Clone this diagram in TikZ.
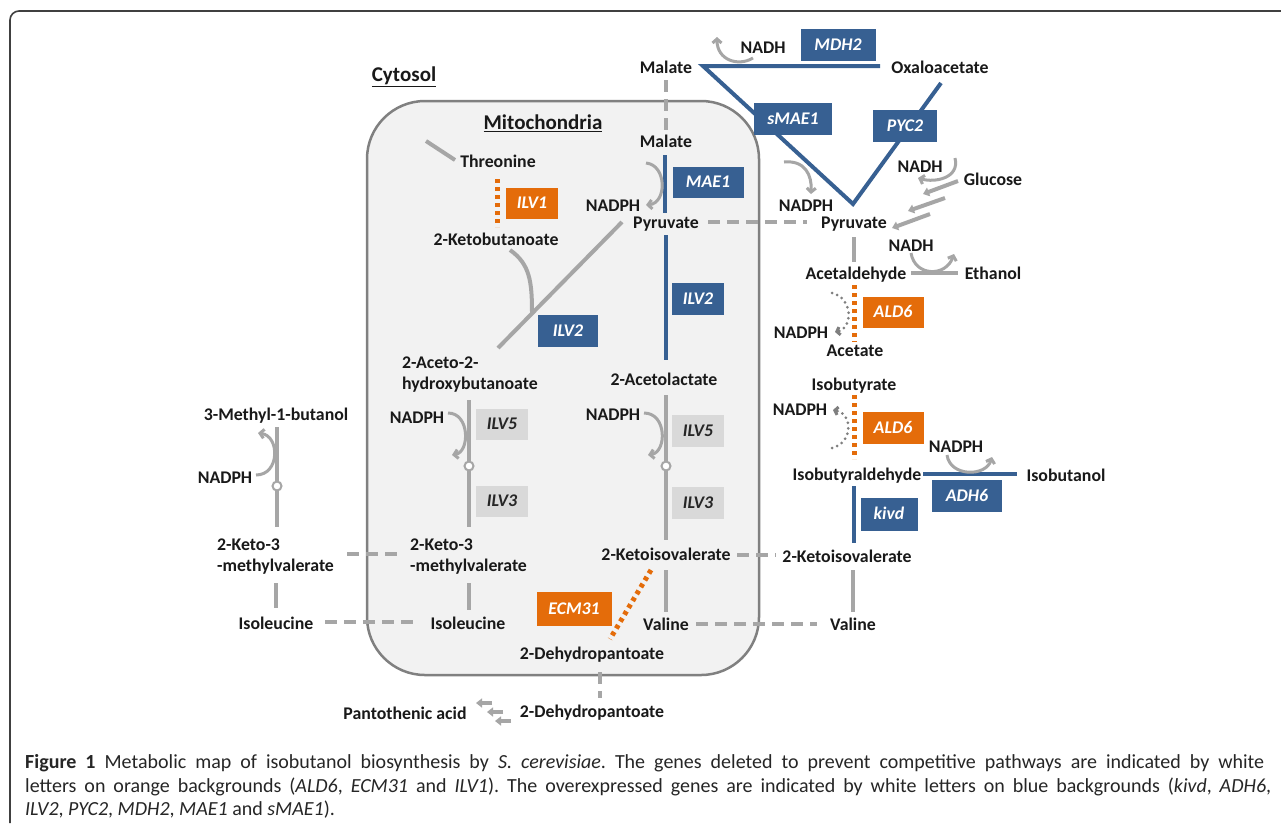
\documentclass[tikz,border=0pt]{standalone}
\usepackage{fontspec}
\setmainfont{Carlito}
\usetikzlibrary{arrows.meta}
\definecolor{pblue}{HTML}{376092}
\definecolor{porange}{HTML}{E46C0A}
\definecolor{lgray}{HTML}{A6A6A6}
\definecolor{boxgray}{HTML}{D9D9D9}
\definecolor{mitofill}{HTML}{F2F2F2}
\definecolor{mitoline}{HTML}{808080}
\definecolor{dotgray}{HTML}{7F7F7F}
\frenchspacing
\begin{document}
\begin{tikzpicture}[x=1pt,y=-1pt,
 lbl/.style={font=\bfseries\fontsize{17.8}{21}\selectfont, inner sep=0pt, text height=11.5pt, text depth=0pt, text=black!90},
 hdr/.style={font=\bfseries\fontsize{21}{24}\selectfont, inner sep=0pt, text height=13.5pt, text depth=0pt, text=black!90},
 lbltwo/.style={font=\bfseries\fontsize{17.8}{21}\selectfont, inner sep=0pt, align=left, text=black!90, anchor=west},
 gbox/.style={inner sep=0pt, font=\bfseries\itshape\fontsize{17.8}{21}\selectfont, text height=11.5pt, text depth=0pt},
 bluebox/.style={gbox, fill=pblue, text=white},
 orbox/.style={gbox, fill=porange, text=white},
 graybox/.style={gbox, fill=boxgray, text=black!85},
 solidln/.style={draw=lgray, line width=4pt},
 blueln/.style={draw=pblue, line width=4pt},
 dashln/.style={draw=lgray, line width=4pt, dash pattern=on 12pt off 7pt},
 dotorange/.style={draw=porange, line width=5pt, dash pattern=on 4pt off 4pt},
 cofarrow/.style={draw=lgray, line width=3pt, -{Straight Barb[length=4pt,width=9pt]}},
 dotarrow/.style={draw=dotgray, line width=3pt, line cap=round, dash pattern=on 0pt off 5.5pt, -{Straight Barb[length=3pt,width=8pt]}},
 blockarrow/.style={draw=lgray, line width=4pt, -{Triangle[length=6pt,width=9pt]}},
 smallblock/.style={draw=lgray, line width=4pt, -{Triangle[length=6pt,width=9pt]}},
 junction/.style={circle, draw=lgray, fill=white, line width=2pt, minimum size=9pt, inner sep=0pt},
 capt/.style={font=\fontsize{20}{24}\selectfont, inner sep=0pt, anchor=base west, text=black!85}
]
\useasboundingbox (0,0) rectangle (1281,823);
\fill[white] (0,0) rectangle (1281,823);

% frame
\coordinate (frBL) at (10,823);
\coordinate (frTL) at (10,11);
\coordinate (frTR) at (1281,11);
\draw[line width=1.6pt, draw=black!75, rounded corners=9pt] (frBL) -- (frTL) -- (frTR);

% mitochondria compartment
\node[draw=mitoline, fill=mitofill, line width=2.5pt, rounded corners=58pt, minimum width=392pt, minimum height=574pt, inner sep=0pt] (mito) at (563,388) {};

% ---------- coordinates ----------
\coordinate (thA) at (426,141); \coordinate (thB) at (455,160);
\coordinate (ilv1A) at (497,179); \coordinate (ilv1B) at (497,227);
\coordinate (dgA) at (622,222); \coordinate (dgB) at (498,348);
\coordinate (brA) at (510,250); \coordinate (brB) at (532,313);
\coordinate (lmA) at (469,400); \coordinate (lmB) at (469,527); \coordinate (lmJ) at (469,466);
\coordinate (lmC) at (469,583); \coordinate (lmD) at (469,610);
\coordinate (cmA) at (666,395); \coordinate (cmB) at (666,540); \coordinate (cmJ) at (666,466);
\coordinate (cmC) at (666,570); \coordinate (cmD) at (666,612);
\coordinate (clA) at (277,427); \coordinate (clB) at (277,527); \coordinate (clJ) at (277,486);
\coordinate (clC) at (276,583); \coordinate (clD) at (276,608);
\coordinate (paA) at (854,237); \coordinate (paB) at (854,262);
\coordinate (aeA) at (911,273); \coordinate (aeB) at (958,273);
\coordinate (kvA) at (853,570); \coordinate (kvB) at (853,612);
\coordinate (maeA) at (665,155); \coordinate (maeB) at (665,213);
\coordinate (ilv2A) at (666,235); \coordinate (ilv2B) at (666,360);
\coordinate (mdhB) at (880,66); \coordinate (vTL) at (703,66); \coordinate (vTip) at (853,204); \coordinate (vTR) at (941,83);
\coordinate (adhA) at (923,474); \coordinate (adhB) at (1017,474);
\coordinate (kivdA) at (854,486); \coordinate (kivdB) at (854,543);
\coordinate (dmA) at (666,80); \coordinate (dmB) at (666,130);
\coordinate (dpA) at (708,222); \coordinate (dpB) at (807,222);
\coordinate (diA) at (325,622); \coordinate (diB) at (419,622);
\coordinate (dkA) at (347,554); \coordinate (dkB) at (397,554);
\coordinate (dvA) at (737,555); \coordinate (dvB) at (776,555);
\coordinate (dlA) at (696,624); \coordinate (dlB) at (817,624);
\coordinate (ddA) at (600,672); \coordinate (ddB) at (600,698);
\coordinate (ald1A) at (854,285); \coordinate (ald1B) at (854,342);
\coordinate (ald2A) at (854,395); \coordinate (ald2B) at (854,459);
\coordinate (ecmA) at (651,570); \coordinate (ecmB) at (610,639);
\coordinate (g1A) at (958,181); \coordinate (g1B) at (923,194);
\coordinate (g2A) at (945,198); \coordinate (g2B) at (908,211);
\coordinate (g3A) at (930,214); \coordinate (g3B) at (892,228);
\coordinate (p1A) at (492,703); \coordinate (p1B) at (476,703);
\coordinate (p2A) at (503,712); \coordinate (p2B) at (487,712);
\coordinate (p3A) at (511,721); \coordinate (p3B) at (495,721);
% cofactor arrow ends
\coordinate (cMaeA) at (646,163); \coordinate (cMaeB) at (646,205);
\coordinate (cL5A) at (448,413); \coordinate (cL5B) at (452,455);
\coordinate (cC5A) at (644,413); \coordinate (cC5B) at (648,455);
\coordinate (cMbA) at (256,475); \coordinate (cMbB) at (258,433);
\coordinate (cMdA) at (753,58); \coordinate (cMdB) at (717,37);
\coordinate (cSmA) at (784,162); \coordinate (cSmB) at (811,194);
\coordinate (cGlA) at (955,158); \coordinate (cGlB) at (918,178);
\coordinate (cEtA) at (911,253); \coordinate (cEtB) at (954,254);
\coordinate (cAdA) at (947,455); \coordinate (cAdB) at (992,457);
\coordinate (cA1A) at (832,293); \coordinate (cA1B) at (835,332);
\coordinate (cA2A) at (832,448); \coordinate (cA2B) at (833,410);

% ---------- connectors ----------
\draw[solidln] (thA) -- (thB);
\draw[solidln] (dgA) -- (dgB);
\draw[solidln] (brA) .. controls (530,264) and (532,282) .. (brB);
\draw[solidln] (lmA) -- (lmB);
\draw[solidln] (lmC) -- (lmD);
\draw[solidln] (cmA) -- (cmB);
\draw[solidln] (cmC) -- (cmD);
\draw[solidln] (clA) -- (clB);
\draw[solidln] (clC) -- (clD);
\draw[solidln] (paA) -- (paB);
\draw[solidln] (aeA) -- (aeB);
\draw[solidln] (kvA) -- (kvB);

\draw[blueln] (maeA) -- (maeB);
\draw[blueln] (ilv2A) -- (ilv2B);
\draw[blueln, line join=miter] (mdhB) -- (vTL) -- (vTip) -- (vTR);
\draw[blueln] (adhA) -- (adhB);
\draw[blueln] (kivdA) -- (kivdB);

\draw[dashln] (dmA) -- (dmB);
\draw[dashln] (dpA) -- (dpB);
\draw[dashln] (diA) -- (diB);
\draw[dashln] (dkA) -- (dkB);
\draw[dashln] (dvA) -- (dvB);
\draw[dashln] (dlA) -- (dlB);
\draw[dashln] (ddA) -- (ddB);

\draw[dotorange] (ilv1A) -- (ilv1B);
\draw[dotorange] (ald1A) -- (ald1B);
\draw[dotorange] (ald2A) -- (ald2B);
\draw[dotorange] (ecmA) -- (ecmB);

\draw[blockarrow] (g1A) -- (g1B);
\draw[blockarrow] (g2A) -- (g2B);
\draw[blockarrow] (g3A) -- (g3B);
\draw[smallblock] (p1A) -- (p1B);
\draw[smallblock] (p2A) -- (p2B);
\draw[smallblock] (p3A) -- (p3B);

\draw[cofarrow] (cMaeA) .. controls (667,165) and (667,203) .. (cMaeB);
\draw[cofarrow] (cL5A) .. controls (470,413) and (470,452) .. (cL5B);
\draw[cofarrow] (cC5A) .. controls (667,413) and (667,452) .. (cC5B);
\draw[cofarrow] (cMbA) .. controls (280,475) and (280,436) .. (cMbB);
\draw[cofarrow] (cMdA) .. controls (738,67) and (717,60) .. (cMdB);
\draw[cofarrow] (cSmA) .. controls (805,160) and (812,175) .. (cSmB);
\draw[cofarrow] (cGlA) .. controls (960,178) and (935,183) .. (cGlB);
\draw[cofarrow] (cEtA) .. controls (915,277) and (946,277) .. (cEtB);
\draw[cofarrow] (cAdA) .. controls (950,477) and (986,477) .. (cAdB);
\draw[dotarrow] (cA1A) .. controls (853,298) and (853,328) .. (cA1B);
\draw[dotarrow] (cA2A) .. controls (853,443) and (853,414) .. (cA2B);

\node[junction] (jl) at (lmJ) {};
\node[junction] (jc) at (cmJ) {};
\node[junction] (jcl) at (clJ) {};

% ---------- gene boxes ----------
\node[bluebox, minimum width=75pt, minimum height=32pt] (mdh2) at (838,45) {MDH2};
\node[bluebox, minimum width=78pt, minimum height=32pt] (smae1) at (793,119) {sMAE1};
\node[bluebox, minimum width=64pt, minimum height=32pt] (pyc2) at (905,126) {PYC2};
\node[bluebox, minimum width=71pt, minimum height=31pt] (mae1) at (708,182) {MAE1};
\node[orbox, minimum width=52pt, minimum height=31pt] (ilv1) at (532,203) {ILV1};
\node[bluebox, minimum width=60pt, minimum height=32pt] (ilv2l) at (568,331) {ILV2};
\node[bluebox, minimum width=52pt, minimum height=32pt] (ilv2r) at (698,299) {ILV2};
\node[graybox, minimum width=52pt, minimum height=31pt] (ilv5l) at (502,424) {ILV5};
\node[graybox, minimum width=52pt, minimum height=31pt] (ilv3l) at (502,501) {ILV3};
\node[graybox, minimum width=52pt, minimum height=32pt] (ilv5c) at (698,431) {ILV5};
\node[graybox, minimum width=52pt, minimum height=32pt] (ilv3c) at (698,503) {ILV3};
\node[orbox, minimum width=75pt, minimum height=34pt] (ecm31) at (574,609) {ECM31};
\node[orbox, minimum width=61pt, minimum height=31pt] (ald6a) at (893,312) {ALD6};
\node[orbox, minimum width=61pt, minimum height=32pt] (ald6b) at (893,428) {ALD6};
\node[bluebox, minimum width=70pt, minimum height=32pt] (adh6) at (967,496) {ADH6};
\node[bluebox, minimum width=57pt, minimum height=33pt] (kivd) at (889,514) {kivd};

% ---------- metabolite labels ----------
\node[hdr] (cytosol) at (404,75) {\underline{Cytosol}};
\node[hdr] (mitolbl) at (543,123) {\underline{Mitochondria}};
\node[lbl] (malc) at (666,68) {Malate};
\node[lbl] (malm) at (666,142) {Malate};
\node[lbl] (nadhtop) at (763,48) {NADH};
\node[lbl] (oxa) at (940,68) {Oxaloacetate};
\node[lbl] (thr) at (498,162) {Threonine};
\node[lbl] (nadphmae) at (613,206) {NADPH};
\node[lbl] (pyrm) at (666,223) {Pyruvate};
\node[lbl] (nadphsm) at (806,206) {NADPH};
\node[lbl] (pyrc) at (854,223) {Pyruvate};
\node[lbl] (nadhgl) at (920,167) {NADH};
\node[lbl] (glc) at (993,180) {Glucose};
\node[lbl] (nadhet) at (911,246) {NADH};
\node[lbl] (acald) at (856,274) {Acetaldehyde};
\node[lbl] (etoh) at (993,274) {Ethanol};
\node[lbl] (nadphac) at (801,333) {NADPH};
\node[lbl] (acet) at (855,351) {Acetate};
\node[lbl] (kbut) at (496,240) {2-Ketobutanoate};
\node[lbltwo] (ahb) at (402,375) {2-Aceto-2-\\hydroxybutanoate};
\node[lbl] (acl) at (664,380) {2-Acetolactate};
\node[lbl] (ibut) at (854,385) {Isobutyrate};
\node[lbl] (nadphib) at (800,410) {NADPH};
\node[lbl] (mbut) at (276,415) {3-Methyl-1-butanol};
\node[lbl] (nadphl) at (417,418) {NADPH};
\node[lbl] (nadphc) at (613,415) {NADPH};
\node[lbl] (nadphad) at (956,447) {NADPH};
\node[lbl] (nadphcl) at (225,478) {NADPH};
\node[lbl] (ibald) at (857,475) {Isobutyraldehyde};
\node[lbl] (iboh) at (1066,476) {Isobutanol};
\node[lbltwo] (kmvc) at (217,557) {2-Keto-3\\-methylvalerate};
\node[lbltwo] (kmvm) at (410,557) {2-Keto-3\\-methylvalerate};
\node[lbl] (kivm) at (666,555) {2-Ketoisovalerate};
\node[lbl] (kivc) at (847,557) {2-Ketoisovalerate};
\node[lbl] (ilec) at (276,624) {Isoleucine};
\node[lbl] (ilem) at (468,624) {Isoleucine};
\node[lbl] (valm) at (666,625) {Valine};
\node[lbl] (valc) at (853,625) {Valine};
\node[lbl] (dhpm) at (592,654) {2-Dehydropantoate};
\node[lbl] (dhpc) at (592,712) {2-Dehydropantoate};
\node[lbl] (pant) at (405,714) {Pantothenic acid};

% ---------- caption ----------
\node[capt] (cap1) at (25,768) {\makebox[1239pt][s]{\textbf{Figure 1} Metabolic map of isobutanol biosynthesis by \textit{S. cerevisiae}. The genes deleted to prevent competitive pathways are indicated by white}};
\node[capt] (cap2) at (25,792) {\makebox[1246pt][s]{letters on orange backgrounds (\textit{ALD6}, \textit{ECM31} and \textit{ILV1}). The overexpressed genes are indicated by white letters on blue backgrounds (\textit{kivd}, \textit{ADH6},}};
\node[capt] (cap3) at (25,815) {\textit{ILV2}, \textit{PYC2}, \textit{MDH2}, \textit{MAE1} and \textit{sMAE1}).};
\end{tikzpicture}
\end{document}
